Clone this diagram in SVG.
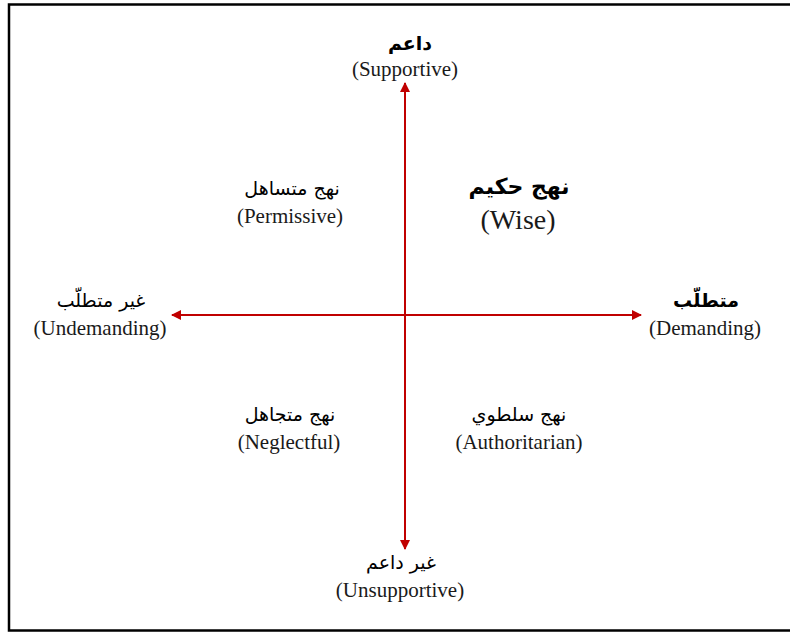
<svg xmlns="http://www.w3.org/2000/svg" width="790" height="632" viewBox="0 0 790 632">
<defs>
<style>
.en{font-family:"Liberation Serif","DejaVu Serif",serif;font-size:21px;fill:#1a1a1a;text-anchor:middle}
.ar{font-family:"DejaVu Sans","Noto Sans",sans-serif;font-size:19px;fill:#000;text-anchor:middle}
.b{font-weight:bold}
.ax{stroke:#C00000;stroke-width:2;fill:none}
</style>
<marker id="ah" viewBox="0 0 10 10" refX="9" refY="5" markerWidth="5" markerHeight="5" orient="auto-start-reverse" markerUnits="strokeWidth">
<path d="M0,0 L10,5 L0,10 z" fill="#C00000"/>
</marker>
</defs>
<rect x="0" y="0" width="790" height="632" fill="#fff"/>
<rect x="9" y="4.5" width="790" height="626" fill="none" stroke="#000" stroke-width="2.5"/>
<g id="connectors">
<line class="ax" x1="405" y1="549" x2="405" y2="83" marker-start="url(#ah)" marker-end="url(#ah)"/>
<line class="ax" x1="172" y1="315" x2="641" y2="315" marker-start="url(#ah)" marker-end="url(#ah)"/>
</g>
<g id="supportive">
<text class="ar b" x="410" y="50">داعم</text>
<text class="en" x="405" y="76">(Supportive)</text>
</g>
<g id="wise">
<text class="ar b" x="519" y="194" style="font-size:22px">نهج حكيم</text>
<text class="en" x="518" y="229" style="font-size:28px">(Wise)</text>
</g>
<g id="undemanding">
<text class="ar" x="101" y="307">غير متطلّب</text>
<text class="en" x="100" y="335">(Undemanding)</text>
</g>
<g id="demanding">
<text class="ar b" x="706" y="307">متطلّب</text>
<text class="en" x="705" y="335">(Demanding)</text>
</g>
<g id="permissive">
<text class="ar" x="292" y="195">نهج متساهل</text>
<text class="en" x="290" y="223">(Permissive)</text>
</g>
<g id="neglectful">
<text class="ar" x="290" y="421">نهج متجاهل</text>
<text class="en" x="289" y="449">(Neglectful)</text>
</g>
<g id="authoritarian">
<text class="ar" x="519" y="421">نهج سلطوي</text>
<text class="en" x="519" y="449">(Authoritarian)</text>
</g>
<g id="unsupportive">
<text class="ar" x="401" y="569">غير داعم</text>
<text class="en" x="400" y="597">(Unsupportive)</text>
</g>
</svg>
